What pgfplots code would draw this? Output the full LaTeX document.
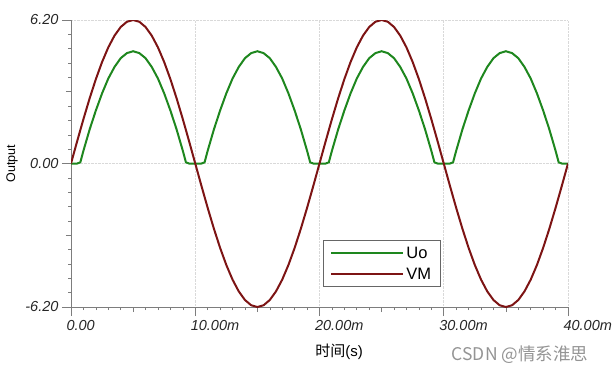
\documentclass[border=0pt]{standalone}
\usepackage{pgfplots}
\pgfplotsset{compat=1.18}
\usepackage{fontspec}
\setmainfont{Liberation Sans}
\newfontfamily\cjk{Noto Sans CJK SC}
\definecolor{uo}{RGB}{30,135,30}
\definecolor{vm}{RGB}{125,20,20}
\definecolor{axgray}{RGB}{125,125,125}
\begin{document}
\begin{tikzpicture}
\useasboundingbox (-71pt,-68pt) rectangle (541pt,307pt);
\begin{axis}[
 scale only axis, width=497pt, height=287pt,
 xmin=0, xmax=40, ymin=-6.2, ymax=6.2,
 axis x line*=bottom, axis y line*=left,
 axis line style={axgray, line width=0.8pt},
 xtick={0,10,20,30,40}, xticklabels={0.00,10.00m,20.00m,30.00m,40.00m},
 ytick={-6.2,0,6.2}, yticklabels={-6.20,0.00,6.20},
 extra x ticks={5,15,25,35}, extra x tick labels={},
 extra x tick style={grid=none, major tick length=5pt},
 extra y ticks={-3.1,3.1}, extra y tick labels={},
 extra y tick style={grid=none, major tick length=5pt},
 minor x tick num=9, minor y tick num=9,
 tick align=outside, major tick length=9pt, minor tick length=3pt,
 tick style={axgray, line width=0.6pt},
 grid=major, minor grid style={draw=none},
 major grid style={densely dotted, black!15, line width=0.6pt},
 ticklabel style={font=\fontsize{14.5}{16}\selectfont\itshape, text=black!85},
 xticklabel style={anchor=north west, xshift=-8pt, yshift=-1pt},
 legend style={at={(axis description cs:0.507,0.07)}, anchor=south west,
   draw=black!60, line width=0.8pt, font=\fontsize{16.5}{18}\selectfont,
   inner xsep=7pt, inner ysep=4pt, row sep=4pt},
 legend cell align=left,
 legend image code/.code={\draw[#1] (0pt,0pt) -- (72pt,0pt);},
]
\addplot[uo, line width=2pt] table {
0 0
0.5 0
0.75 0.05
1 0.55
1.5 1.47
2 2.29
2.5 3.03
3 3.67
3.5 4.17
4 4.55
4.5 4.77
5 4.85
5.5 4.77
6 4.55
6.5 4.17
7 3.67
7.5 3.03
8 2.29
8.5 1.47
9 0.55
9.25 0.05
9.5 0
10 0
10.5 0
10.75 0.05
11 0.55
11.5 1.47
12 2.29
12.5 3.03
13 3.67
13.5 4.17
14 4.55
14.5 4.77
15 4.85
15.5 4.77
16 4.55
16.5 4.17
17 3.67
17.5 3.03
18 2.29
18.5 1.47
19 0.55
19.25 0.05
19.5 0
20 0
20.5 0
20.75 0.05
21 0.55
21.5 1.47
22 2.29
22.5 3.03
23 3.67
23.5 4.17
24 4.55
24.5 4.77
25 4.85
25.5 4.77
26 4.55
26.5 4.17
27 3.67
27.5 3.03
28 2.29
28.5 1.47
29 0.55
29.25 0.05
29.5 0
30 0
30.5 0
30.75 0.05
31 0.55
31.5 1.47
32 2.29
32.5 3.03
33 3.67
33.5 4.17
34 4.55
34.5 4.77
35 4.85
35.5 4.77
36 4.55
36.5 4.17
37 3.67
37.5 3.03
38 2.29
38.5 1.47
39 0.55
39.25 0.05
39.5 0
40 0
};
\addlegendentry{Uo}
\addplot[vm, line width=2pt] table {
0 0
0.5 0.970
1 1.916
1.5 2.815
2 3.644
2.5 4.384
3 5.016
3.5 5.524
4 5.897
4.5 6.124
5 6.200
5.5 6.124
6 5.897
6.5 5.524
7 5.016
7.5 4.384
8 3.644
8.5 2.815
9 1.916
9.5 0.970
10 0
10.5 -0.970
11 -1.916
11.5 -2.815
12 -3.644
12.5 -4.384
13 -5.016
13.5 -5.524
14 -5.897
14.5 -6.124
15 -6.200
15.5 -6.124
16 -5.897
16.5 -5.524
17 -5.016
17.5 -4.384
18 -3.644
18.5 -2.815
19 -1.916
19.5 -0.970
20 0
20.5 0.970
21 1.916
21.5 2.815
22 3.644
22.5 4.384
23 5.016
23.5 5.524
24 5.897
24.5 6.124
25 6.200
25.5 6.124
26 5.897
26.5 5.524
27 5.016
27.5 4.384
28 3.644
28.5 2.815
29 1.916
29.5 0.970
30 0
30.5 -0.970
31 -1.916
31.5 -2.815
32 -3.644
32.5 -4.384
33 -5.016
33.5 -5.524
34 -5.897
34.5 -6.124
35 -6.200
35.5 -6.124
36 -5.897
36.5 -5.524
37 -5.016
37.5 -4.384
38 -3.644
38.5 -2.815
39 -1.916
39.5 -0.970
40 0
};
\addlegendentry{VM}
\end{axis}
\node[rotate=90, font=\fontsize{12.5}{14}\selectfont] at (-59pt,143.5pt) {Output};
\node[font=\fontsize{15}{17}\selectfont] at (268pt,-45pt) {{\cjk 时间}(s)};
\node[font=\fontsize{17.5}{19}\selectfont\cjk, text=black!42] at (449pt,-48pt) {CSDN @情系淮思};
\end{tikzpicture}
\end{document}
